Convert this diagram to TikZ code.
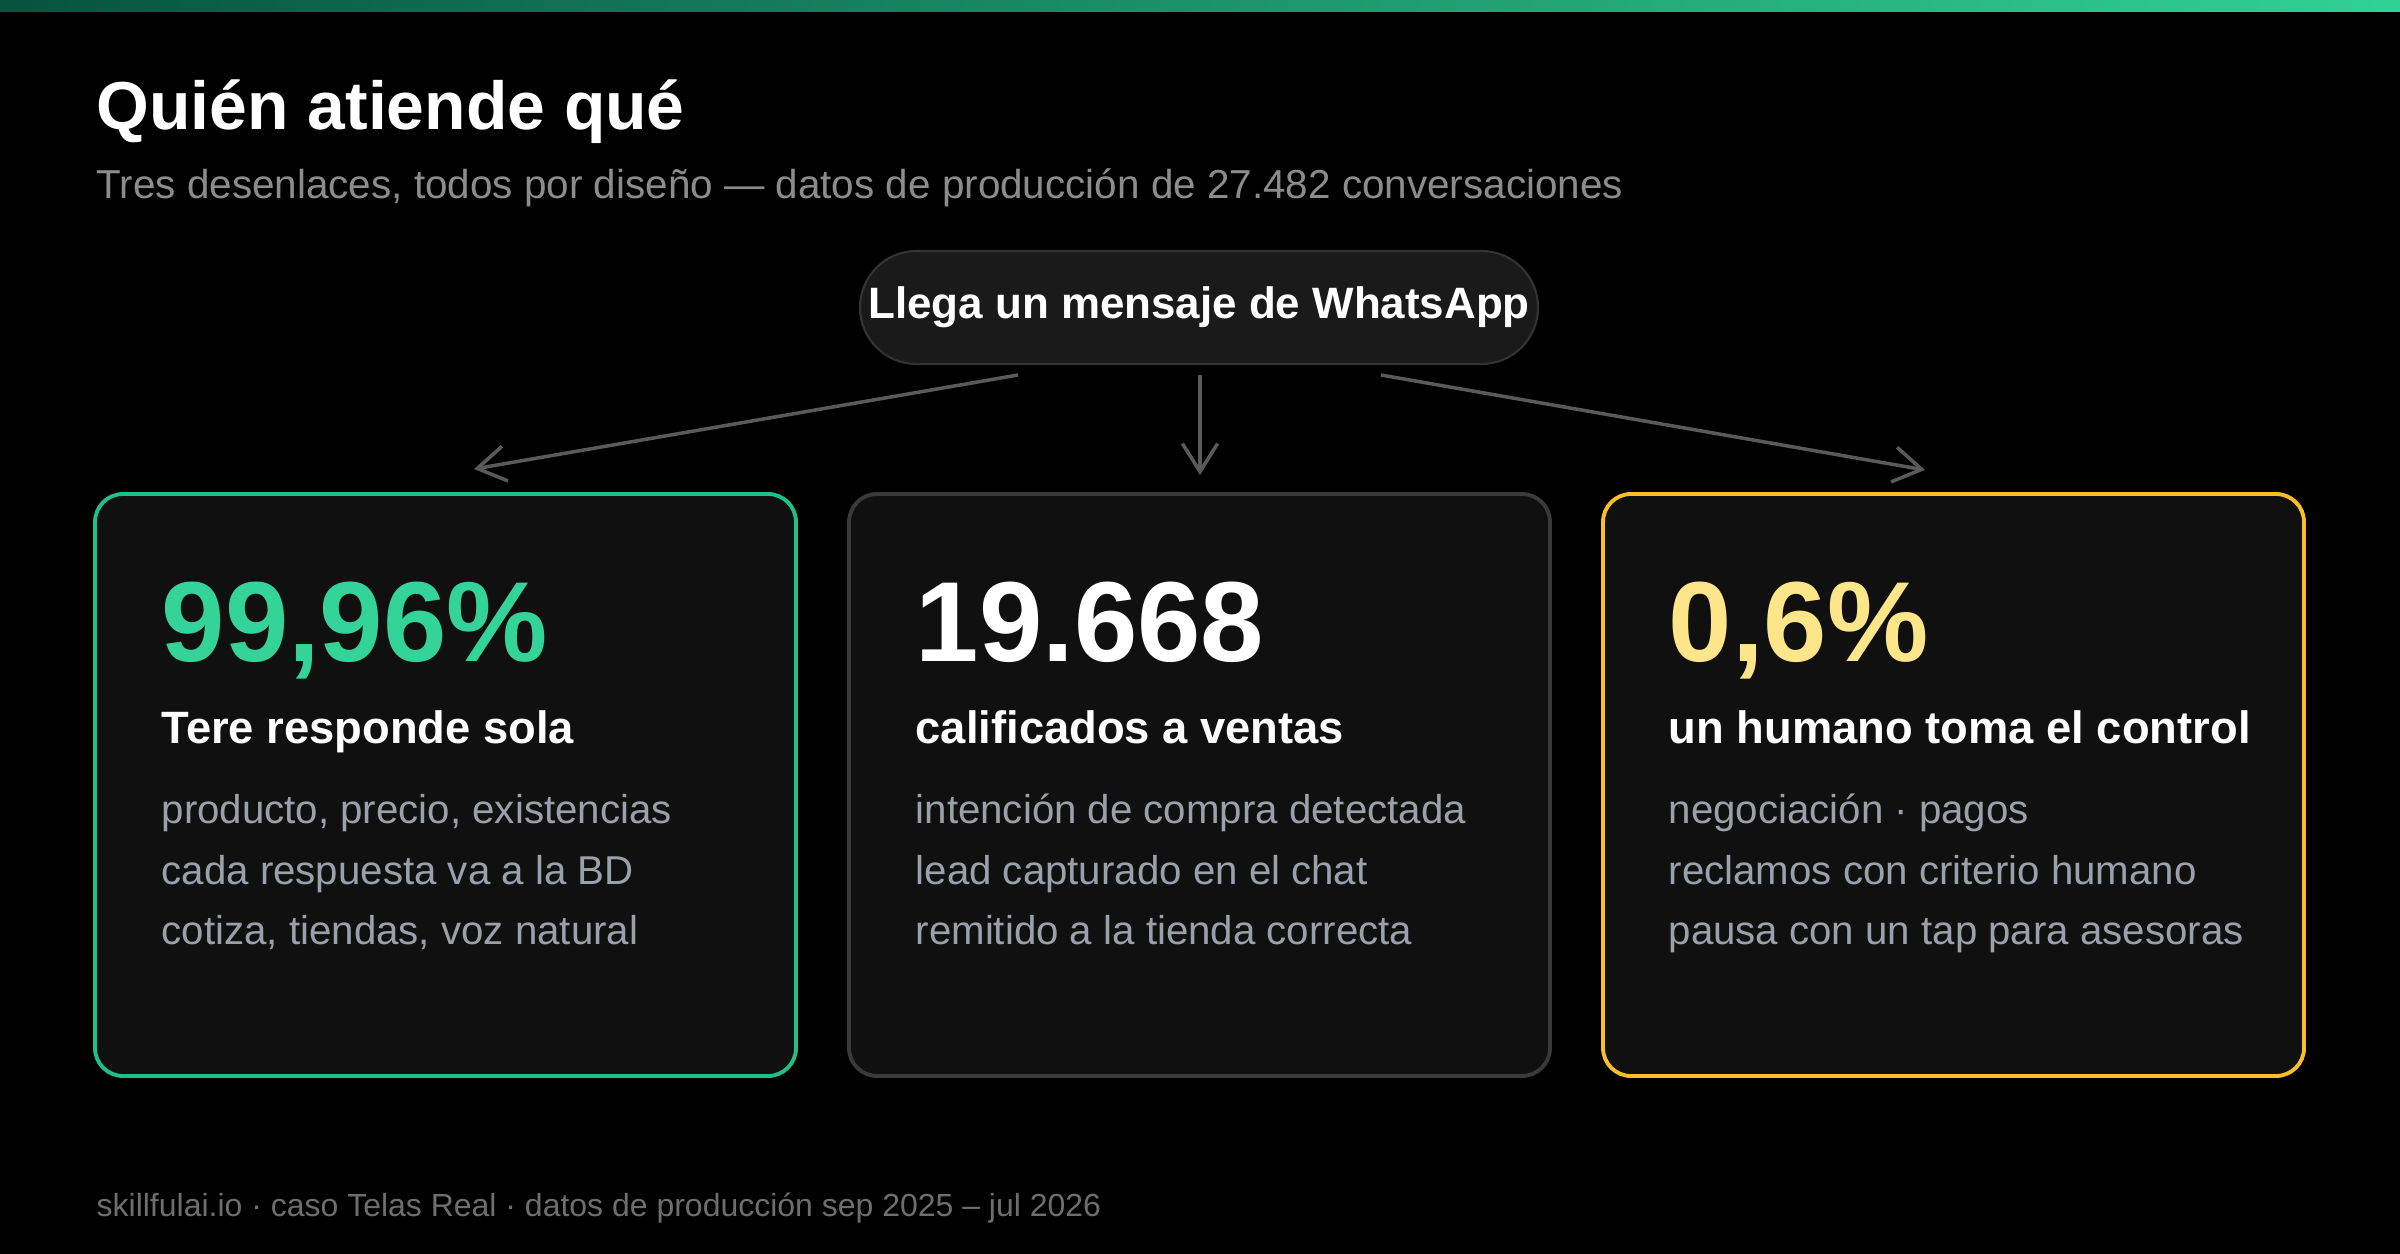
\documentclass[tikz,border=0pt]{standalone}
\usepackage{fontspec}
\setmainfont{Liberation Sans}
\usetikzlibrary{arrows.meta}
\definecolor{barleft}{HTML}{06533E}
\definecolor{barmid}{HTML}{12B880}
\definecolor{barright}{HTML}{31D196}
\definecolor{cardbg}{HTML}{101010}
\definecolor{pillbg}{HTML}{1A1A1A}
\definecolor{pillline}{HTML}{333333}
\definecolor{greenline}{HTML}{1DBF8A}
\definecolor{greynum}{HTML}{3A3A3A}
\definecolor{amberline}{HTML}{FBBF24}
\definecolor{greennum}{HTML}{34D399}
\definecolor{yellownum}{HTML}{FDE68A}
\definecolor{subgrey}{HTML}{8C8C8C}
\definecolor{descgrey}{HTML}{9BA0AA}
\definecolor{footgrey}{HTML}{6E6E6E}
\definecolor{arrowgrey}{HTML}{5A5A5A}

\begin{document}
\begin{tikzpicture}[card/.style={rectangle,rounded corners=0.28cm,fill=cardbg,line width=1.1pt,minimum width=7.01cm,minimum height=5.82cm,inner sep=0},
  txt/.style={anchor=base west,inner sep=0,text=white},
  bignum/.style={txt,font=\fontsize{32.4}{36}\selectfont\bfseries},
  head/.style={txt,font=\fontsize{12.9}{15}\selectfont\bfseries},
  desc/.style={txt,text=descgrey,font=\fontsize{11.45}{14}\selectfont},
  flow/.style={draw=arrowgrey,line width=1pt,-{Straight Barb[length=8pt,width=10pt]}}]

% Background and top bar
\fill[black] (0,0) rectangle (24,-12.54);
\shade[left color=barleft,middle color=barmid,right color=barright] (0,0) rectangle (24,-0.12);

% Title
\node[txt,font=\fontsize{19.3}{23}\selectfont\bfseries] (title) at (0.96,-1.30) {Quién atiende qué};
\node[txt,text=subgrey,font=\fontsize{11.5}{14}\selectfont] (subtitle) at (0.96,-1.99) {Tres desenlaces, todos por diseño — datos de producción de 27.482 conversaciones};

% Incoming message
\node[draw=pillline,fill=pillbg,line width=0.6pt,rounded corners=0.565cm,minimum width=6.78cm,minimum height=1.13cm,inner sep=0,text=white,font=\fontsize{12.5}{15}\selectfont\bfseries] (msg) at (11.99,-3.075) {Llega un mensaje de WhatsApp};

% Cards
\node[card,draw=greenline] (tere) at (4.455,-7.85) {};
\node[card,draw=greynum] (ventas) at (11.995,-7.85) {};
\node[card,draw=amberline] (humano) at (19.535,-7.85) {};

% Arrows
\coordinate (msgleft) at (10.18,-3.75);
\coordinate (msgmid) at (12.00,-3.75);
\coordinate (msgright) at (13.81,-3.75);
\coordinate (tereto) at (4.74,-4.69);
\coordinate (ventasto) at (12.00,-4.75);
\coordinate (humanoto) at (19.25,-4.70);
\draw[flow] (msgleft) -- (tereto);
\draw[flow] (msgmid) -- (ventasto);
\draw[flow] (msgright) -- (humanoto);

% Tere
\node[bignum,text=greennum] (terenum) at (1.61,-6.62) {99,96\%};
\node[head] (terehead) at (1.61,-7.43) {Tere responde sola};
\node[desc] (tereone) at (1.61,-8.23) {producto, precio, existencias};
\node[desc] (teretwo) at (1.61,-8.84) {cada respuesta va a la BD};
\node[desc] (terethree) at (1.61,-9.44) {cotiza, tiendas, voz natural};

% Ventas
\node[bignum] (ventasnum) at (9.15,-6.62) {19.668};
\node[head] (ventashead) at (9.15,-7.43) {calificados a ventas};
\node[desc] (ventasone) at (9.15,-8.23) {intención de compra detectada};
\node[desc] (ventastwo) at (9.15,-8.84) {lead capturado en el chat};
\node[desc] (ventasthree) at (9.15,-9.44) {remitido a la tienda correcta};

% Humano
\node[bignum,text=yellownum] (humanonum) at (16.68,-6.62) {0,6\%};
\node[head] (humanohead) at (16.68,-7.43) {un humano toma el control};
\node[desc] (humanoone) at (16.68,-8.23) {negociación · pagos};
\node[desc] (humanotwo) at (16.68,-8.84) {reclamos con criterio humano};
\node[desc] (humanothree) at (16.68,-9.44) {pausa con un tap para asesoras};

% Footer
\node[txt,text=footgrey,font=\fontsize{9.1}{11}\selectfont] (footer) at (0.96,-12.16) {skillfulai.io · caso Telas Real · datos de producción sep 2025 – jul 2026};

\end{tikzpicture}
\end{document}
